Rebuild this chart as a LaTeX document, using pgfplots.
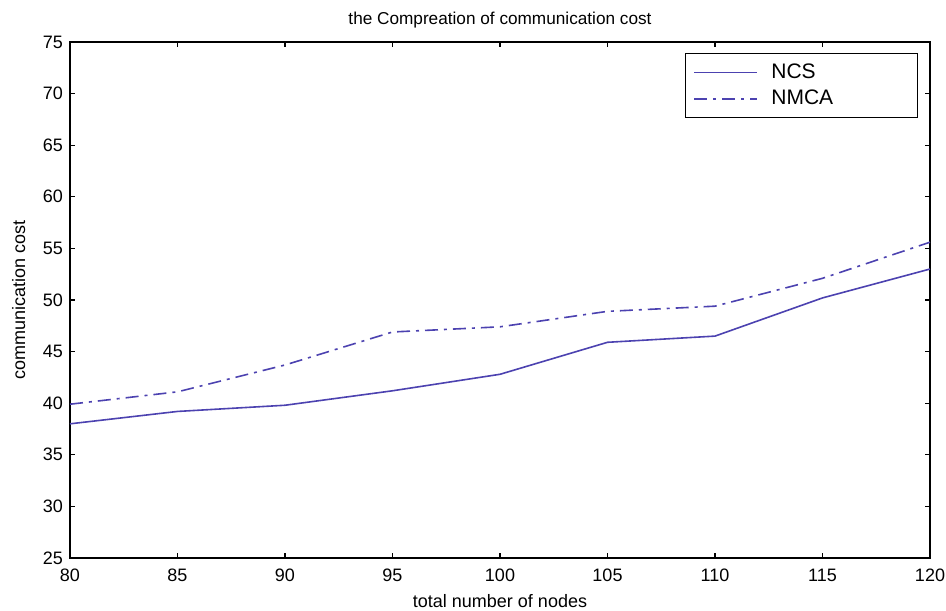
\documentclass[border=0pt]{standalone}
\usepackage{pgfplots}
\pgfplotsset{compat=1.18}
\usepackage{fontspec}
\setmainfont{Liberation Sans}
\definecolor{lc}{RGB}{76,66,176}
\begin{document}
\begin{tikzpicture}
\begin{axis}[
  scale only axis,
  width=430pt, height=258pt,
  xmin=80, xmax=120, ymin=25, ymax=75,
  xtick={80,85,...,120}, ytick={25,30,...,75},
  tick align=inside,
  major tick length=2.5pt,
  axis line style={line width=0.7pt},
  every tick/.style={black, line width=0.6pt},
  /pgf/number format/assume math mode=true,
  tick label style={font=\fontsize{9}{10}\selectfont},
  xticklabel style={yshift=-2pt},
  title={the Compreation of communication cost},
  title style={font=\fontsize{8.6}{10}\selectfont, yshift=-2.5pt},
  xlabel={total number of nodes},
  ylabel={communication cost},
  label style={font=\fontsize{9}{10}\selectfont},
  xlabel style={yshift=0.5pt},
  ylabel style={yshift=2pt},
  legend style={at={(rel axis cs:0.986,0.979)}, anchor=north east,
    draw=black, line width=0.6pt, font=\fontsize{10.5}{12}\selectfont,
    row sep=0.5pt, inner xsep=4pt, inner ysep=3pt},
  legend cell align=left,
  legend image code/.code={\draw[#1, lc, line width=0.7pt] (0.15cm,0cm) -- (1.25cm,0cm);},
]
\addplot[lc, line width=0.8pt] coordinates {
 (80,38.0) (85,39.2) (90,39.8) (95,41.2) (100,42.8) (105,45.9) (110,46.5) (115,50.2) (120,53.0)};
\addlegendentry{\makebox[72pt][l]{\hspace*{5pt}NCS}}
\addplot[lc, line width=0.8pt, dash pattern=on 6.5pt off 3pt on 1.5pt off 3pt] coordinates {
 (80,39.9) (85,41.1) (90,43.7) (95,46.9) (100,47.4) (105,48.9) (110,49.4) (115,52.1) (120,55.6)};
\addlegendentry{\makebox[72pt][l]{\hspace*{5pt}NMCA}}
\end{axis}
\pgfresetboundingbox
\path[use as bounding box] ([shift={(-35pt,-26.5pt)}]current axis.south west) rectangle ([shift={(8pt,21pt)}]current axis.north east);
\end{tikzpicture}
\end{document}
